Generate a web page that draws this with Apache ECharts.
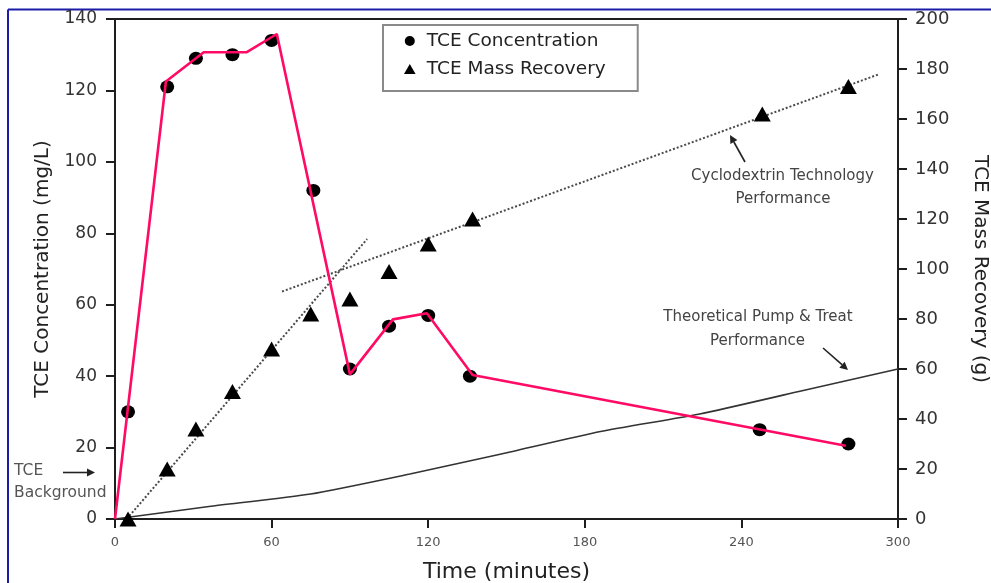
<!DOCTYPE html>
<html>
<head>
<meta charset="utf-8">
<script src="https://cdn.jsdelivr.net/npm/echarts@6/dist/echarts.min.js"></script>
<style>
  html, body { margin: 0; padding: 0; background: #fff; }
  #chart { width: 991px; height: 583px; }
</style>
</head>
<body>
<div id="chart"></div>
<script>
// Measured TCE concentration (mg/L) against elapsed time (minutes)
const concTime  = [5, 20, 31, 45, 60, 76, 90, 105, 120, 136, 247, 281];
const concValue = [30, 121, 129, 130, 134, 92, 42, 54, 57, 40, 25, 21];

// Cumulative TCE mass recovered (g)
const massTime  = [5, 20, 31, 45, 60, 75, 90, 105, 120, 137, 248, 281];
const massValue = [0, 20, 36, 51, 68, 82, 88, 99, 110, 120, 162, 173];

// Hand-drawn concentration trace
const traceTime = [0, 19.5, 34, 50.5, 62, 90, 106.5, 119.5, 137, 280];
const traceConc = [0, 122.5, 130.7, 130.7, 135.8, 40.5, 55.9, 57.6, 40.3, 20.5];

// Cyclodextrin recovery trend lines (early and late stage)
const earlyTrendTime = [4.5, 96.6];
const earlyTrendMass = [0, 112];
const lateTrendTime  = [64, 293];
const lateTrendMass  = [91, 178];

// Theoretical pump & treat recovery curve
const pumpTime = [0, 36, 75, 113, 148, 186, 224, 262, 300];
const pumpMass = [0, 5, 10, 18, 26, 35, 42, 51, 60];

// Axis tick values
const timeTicks = [0, 60, 120, 180, 240, 300];
const concTicks = [0, 20, 40, 60, 80, 100, 120, 140];
const massTicks = [0, 20, 40, 60, 80, 100, 120, 140, 160, 180, 200];

const FONT = 'DejaVu Sans';
const pairs = (xs, ys) => xs.map((x, i) => [x, ys[i]]);

const chart = echarts.init(document.getElementById('chart'), null, { renderer: 'canvas' });

// Annotation arrow: shaft plus a filled head at (x2, y2)
function arrow(x1, y1, x2, y2, color) {
  const a = Math.atan2(y2 - y1, x2 - x1);
  const L = 8, W = 4;
  const bx = x2 - L * Math.cos(a), by = y2 - L * Math.sin(a);
  const px = -Math.sin(a) * W, py = Math.cos(a) * W;
  return {
    type: 'group',
    children: [
      { type: 'line', shape: { x1: x1, y1: y1, x2: bx, y2: by }, style: { stroke: color, lineWidth: 1.6 } },
      { type: 'polygon', shape: { points: [[x2, y2], [bx + px, by + py], [bx - px, by - py]] }, style: { fill: color } }
    ]
  };
}

const axisLine = { show: true, lineStyle: { color: '#1e1e1e', width: 2 } };
const axisTick = { show: true, length: 9, lineStyle: { color: '#1e1e1e', width: 2 } };

const option = {
  animation: false,
  backgroundColor: '#fff',
  grid: {
    left: 115, right: 93, top: 19, bottom: 64,
    containLabel: false, outerBoundsMode: 'none',
    show: true, borderColor: '#1e1e1e', borderWidth: 2, backgroundColor: 'transparent'
  },
  legend: {
    orient: 'vertical',
    left: 383, top: 25,
    padding: [6, 32, 12, 21],
    itemWidth: 24, itemHeight: 10, itemGap: 8,
    backgroundColor: '#fff',
    borderColor: '#8a8a8a', borderWidth: 2, borderRadius: 0,
    symbolKeepAspect: true,
    textStyle: { fontFamily: FONT, fontSize: 18.5, color: '#222', lineHeight: 20 },
    data: [
      { name: 'TCE Concentration', icon: 'circle' },
      { name: 'TCE Mass Recovery', icon: 'path://M5,0 L10.5,9.5 L-0.5,9.5 Z' }
    ]
  },
  xAxis: {
    type: 'value',
    min: timeTicks[0], max: timeTicks[timeTicks.length - 1],
    interval: timeTicks[1] - timeTicks[0],
    name: 'Time (minutes)', nameLocation: 'middle', nameGap: 42,
    nameTextStyle: { fontFamily: FONT, fontSize: 22, color: '#222' },
    axisLine: axisLine, axisTick: axisTick,
    axisLabel: { fontFamily: FONT, fontSize: 13, color: '#555', margin: 17 },
    splitLine: { show: false }
  },
  yAxis: [
    {
      type: 'value', position: 'left',
      min: concTicks[0], max: concTicks[concTicks.length - 1],
      interval: concTicks[1] - concTicks[0],
      name: 'TCE Concentration (mg/L)', nameLocation: 'middle', nameGap: 62,
      nameTextStyle: { fontFamily: FONT, fontSize: 20, color: '#222' },
      axisLine: axisLine, axisTick: axisTick,
      axisLabel: { fontFamily: FONT, fontSize: 17, color: '#333', margin: 18 },
      splitLine: { show: false }
    },
    {
      type: 'value', position: 'right',
      min: massTicks[0], max: massTicks[massTicks.length - 1],
      interval: massTicks[1] - massTicks[0],
      name: 'TCE Mass Recovery (g)', nameLocation: 'middle', nameGap: 72, nameRotate: -90,
      nameTextStyle: { fontFamily: FONT, fontSize: 20, color: '#222' },
      axisLine: axisLine, axisTick: axisTick,
      axisLabel: { fontFamily: FONT, fontSize: 18, color: '#333', margin: 17 },
      splitLine: { show: false }
    }
  ],
  series: [
    {
      name: 'Theoretical Pump & Treat', type: 'line', yAxisIndex: 1,
      data: pairs(pumpTime, pumpMass), smooth: 0.2, showSymbol: false,
      lineStyle: { color: '#333', width: 1.6 }, z: 2, silent: true
    },
    {
      name: 'Early trend', type: 'line', yAxisIndex: 1,
      data: pairs(earlyTrendTime, earlyTrendMass), showSymbol: false,
      lineStyle: { color: '#4a4a4a', width: 2, type: [2, 2] }, z: 2, silent: true
    },
    {
      name: 'Late trend', type: 'line', yAxisIndex: 1,
      data: pairs(lateTrendTime, lateTrendMass), showSymbol: false,
      lineStyle: { color: '#4a4a4a', width: 2, type: [2, 2] }, z: 2, silent: true
    },
    {
      name: 'TCE Mass Recovery', type: 'scatter', yAxisIndex: 1,
      data: pairs(massTime, massValue), symbol: 'triangle', symbolSize: [17, 15],
      itemStyle: { color: '#000', opacity: 1 }, z: 3
    },
    {
      name: 'TCE Concentration', type: 'scatter', yAxisIndex: 0,
      data: pairs(concTime, concValue), symbol: 'circle', symbolSize: [14, 13],
      itemStyle: { color: '#000', opacity: 1 }, z: 3
    },
    {
      name: 'Concentration trace', type: 'line', yAxisIndex: 0,
      data: pairs(traceTime, traceConc), showSymbol: false,
      lineStyle: { color: '#ff0a64', width: 2.6 }, z: 4, silent: true
    }
  ],
  graphic: [
    // page frame
    { type: 'line', shape: { x1: 8, y1: 9.5, x2: 991, y2: 9.5 }, style: { stroke: '#1c1ca8', lineWidth: 2 } },
    { type: 'line', shape: { x1: 8, y1: 9.5, x2: 8, y2: 583 }, style: { stroke: '#1c1ca8', lineWidth: 2 } },
    // TCE background marker
    { type: 'text', left: 14, top: 463, style: { text: 'TCE', font: '15.5px "DejaVu Sans"', fill: '#555' } },
    { type: 'text', left: 14, top: 485, style: { text: 'Background', font: '15.5px "DejaVu Sans"', fill: '#555' } },
    arrow(63, 472.5, 95, 472.5, '#222'),
    // Cyclodextrin annotation
    { type: 'text', x: 782.5, y: 176.5, style: { text: 'Cyclodextrin Technology', font: '15px "DejaVu Sans"', fill: '#444', align: 'center', verticalAlign: 'middle' } },
    { type: 'text', x: 783, y: 199, style: { text: 'Performance', font: '15px "DejaVu Sans"', fill: '#444', align: 'center', verticalAlign: 'middle' } },
    arrow(745, 162, 730, 135, '#222'),
    // Pump & treat annotation
    { type: 'text', x: 758, y: 317.5, style: { text: 'Theoretical Pump & Treat', font: '15px "DejaVu Sans"', fill: '#444', align: 'center', verticalAlign: 'middle' } },
    { type: 'text', x: 757.5, y: 341, style: { text: 'Performance', font: '15px "DejaVu Sans"', fill: '#444', align: 'center', verticalAlign: 'middle' } },
    arrow(823, 348, 848, 370, '#222')
  ]
};

chart.setOption(option);
</script>
</body>
</html>
